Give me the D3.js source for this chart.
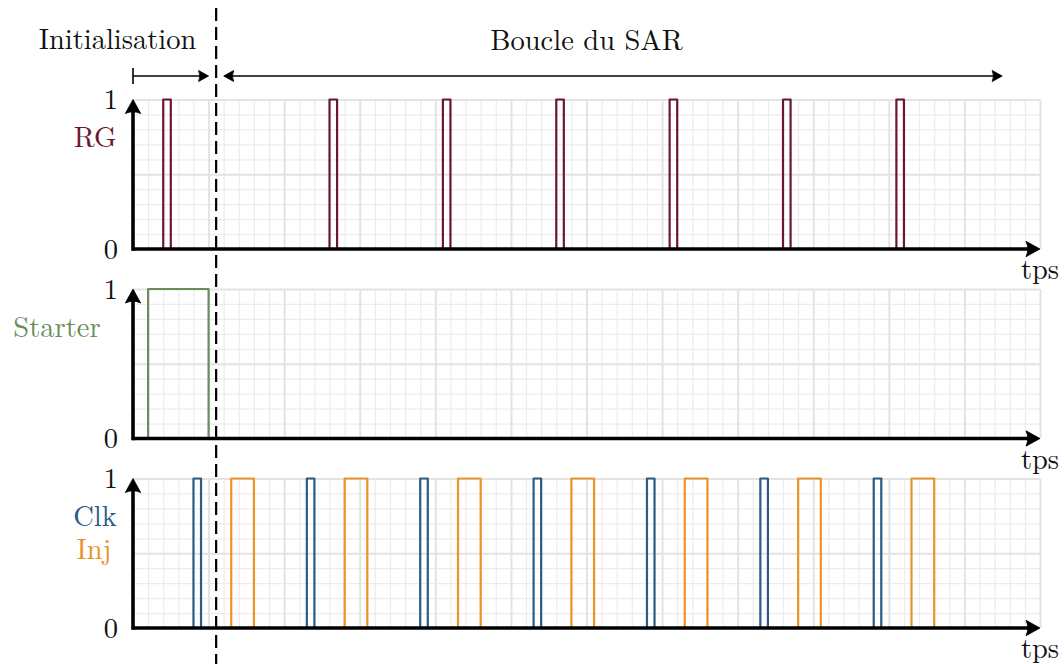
<!DOCTYPE html>
<html><head><meta charset="utf-8">
<script src="https://cdn.jsdelivr.net/npm/d3@7"></script>
<style>
body{margin:0;background:#fff}
svg{display:block}
</style>
</head><body>
<svg id="c" width="1064" height="664"></svg>
<script>
// ---- data ----
const panelSignals = ["RG", "Starter", "Clk", "Inj"];
const rgStart = [0.4, 2.6, 4.1, 5.6, 7.1, 8.6, 10.1];
const rgEnd   = [0.5, 2.7, 4.2, 5.7, 7.2, 8.7, 10.2];
const starterStart = [0.2];
const starterEnd   = [1.0];
const clkStart = [0.8, 2.3, 3.8, 5.3, 6.8, 8.3, 9.8];
const clkEnd   = [0.9, 2.4, 3.9, 5.4, 6.9, 8.4, 9.9];
const injStart = [1.3, 2.8, 4.3, 5.8, 7.3, 8.8, 10.3];
const injEnd   = [1.6, 3.1, 4.6, 6.1, 7.6, 9.1, 10.6];
const yTickValues = [0, 1];
const xAxisLabel = "tps";
const phaseLabels = ["Initialisation", "Boucle du SAR"];
const phaseStart = [0, 1.2];
const phaseEnd = [1.0, 11.5];
const phaseBoundary = 1.1;
const xDomain = [0, 12];

// ---- layout ----
const FONT = "Latin Modern Roman";
const colors = {RG:"#6e1631", Starter:"#6b8d5b", Clk:"#2c5c84", Inj:"#e8942a"};
const svg = d3.select("#c");
const x = d3.scaleLinear().domain(xDomain).range([133, 1040]);
const panelBottoms = [249, 438.5, 628];
const panelH = 149.5;
const fontSize = 28.5;

function txt(g, t, px, py, anchor, color) {
  return g.append("text").attr("x", px).attr("y", py).attr("text-anchor", anchor)
    .attr("font-family", FONT).attr("font-size", fontSize).attr("fill", color || "#111").text(t);
}

function arrowHead(g, tipX, tipY, angle, size, color) {
  const L = size, W = size * 0.55, back = size * 0.75;
  const p = `M0,0 L${-L},${-W} Q${-back},0 ${-L},${W} Z`;
  g.append("path").attr("d", p)
    .attr("transform", `translate(${tipX},${tipY}) rotate(${angle})`)
    .attr("fill", color).attr("stroke", color).attr("stroke-width", 0.8).attr("stroke-linejoin","round");
}

const panels = [
  {signals:[{name:"RG", s:rgStart, e:rgEnd}], labels:[{t:"RG", x:95, y:147}]},
  {signals:[{name:"Starter", s:starterStart, e:starterEnd}], labels:[{t:"Starter", x:57, y:337}]},
  {signals:[{name:"Clk", s:clkStart, e:clkEnd},{name:"Inj", s:injStart, e:injEnd}],
   labels:[{t:"Clk", x:95, y:526},{t:"Inj", x:94, y:559}]}
];

panels.forEach((p, i) => {
  const y = d3.scaleLinear().domain([0, 1]).range([panelBottoms[i], panelBottoms[i] - panelH]);
  const g = svg.append("g");
  const W = x(12) - x(0);
  // minor grid
  const xMinor = d3.range(0, 12.001, 0.2).filter(v => Math.abs(v - Math.round(v)) > 1e-6);
  const yMinor = d3.range(0, 1.001, 0.1).filter(v => Math.abs(v*2 - Math.round(v*2)) > 1e-6);
  g.append("g").attr("transform", `translate(0,${y(0)})`)
    .call(d3.axisBottom(x).tickValues(xMinor).tickSize(-panelH).tickFormat(""))
    .call(a => { a.select(".domain").remove(); a.selectAll("line").attr("stroke","#ececec").attr("stroke-width",1.2); });
  g.append("g").attr("transform", `translate(${x(0)},0)`)
    .call(d3.axisLeft(y).tickValues(yMinor).tickSize(-W).tickFormat(""))
    .call(a => { a.select(".domain").remove(); a.selectAll("line").attr("stroke","#ececec").attr("stroke-width",1.2); });
  // major grid
  g.append("g").attr("transform", `translate(0,${y(0)})`)
    .call(d3.axisBottom(x).tickValues(d3.range(1, 13)).tickSize(-panelH).tickFormat(""))
    .call(a => { a.select(".domain").remove(); a.selectAll("line").attr("stroke","#e3e3e3").attr("stroke-width",2); });
  g.append("g").attr("transform", `translate(${x(0)},0)`)
    .call(d3.axisLeft(y).tickValues([0.5, 1]).tickSize(-W).tickFormat(""))
    .call(a => { a.select(".domain").remove(); a.selectAll("line").attr("stroke","#e3e3e3").attr("stroke-width",2); });

  // signals
  p.signals.forEach(sig => {
    const d = sig.s.map((s, k) => `M${x(s)},${y(0)}V${y(1)}H${x(sig.e[k])}V${y(0)}`).join("");
    g.append("path").attr("d", d).attr("fill","none")
      .attr("stroke", colors[sig.name]).attr("stroke-width", 2.2).attr("stroke-linejoin","round");
  });

  // axes
  g.append("line").attr("x1", x(0)).attr("x2", x(12) - 8).attr("y1", y(0)).attr("y2", y(0))
    .attr("stroke","#000").attr("stroke-width",3.6);
  arrowHead(g, x(12), y(0), 0, 14, "#000");
  g.append("line").attr("x1", x(0)).attr("x2", x(0)).attr("y1", y(0) + 1.8).attr("y2", y(1) + 8)
    .attr("stroke","#000").attr("stroke-width",3.6);
  arrowHead(g, x(0), y(1), -90, 14, "#000");

  // y tick labels
  g.append("g").attr("transform", `translate(${x(0)},0)`)
    .call(d3.axisLeft(y).tickValues(yTickValues).tickSize(0).tickPadding(15).tickFormat(d3.format("d")))
    .call(a => { a.select(".domain").remove();
      a.attr("font-family", FONT).attr("font-size", fontSize);
      a.selectAll("text").attr("font-family", FONT).attr("font-size", fontSize).attr("fill","#111")
       .attr("dy","0.33em"); });

  // x label
  txt(g, xAxisLabel, x(12), y(0) + 30, "middle");

  // signal labels
  p.labels.forEach(l => txt(g, l.t, l.x, l.y, "middle", colors[l.t]));
});

// phase boundary dashed line
svg.append("line").attr("x1", x(phaseBoundary)).attr("x2", x(phaseBoundary))
  .attr("y1", 8).attr("y2", 664).attr("stroke","#000").attr("stroke-width",2.2)
  .attr("stroke-dasharray","13,6");

// phase arrows
const ay = 76;
const ag = svg.append("g");
ag.append("line").attr("x1", x(phaseStart[0])).attr("x2", x(phaseEnd[0]) - 5).attr("y1", ay).attr("y2", ay)
  .attr("stroke","#000").attr("stroke-width",1.6);
ag.append("line").attr("x1", x(phaseStart[0])).attr("x2", x(phaseStart[0])).attr("y1", ay - 8).attr("y2", ay + 8)
  .attr("stroke","#000").attr("stroke-width",1.6);
arrowHead(ag, x(phaseEnd[0]), ay, 0, 10, "#000");
ag.append("line").attr("x1", x(phaseStart[1]) + 5).attr("x2", x(phaseEnd[1]) - 5).attr("y1", ay).attr("y2", ay)
  .attr("stroke","#000").attr("stroke-width",1.6);
arrowHead(ag, x(phaseStart[1]), ay, 180, 10, "#000");
arrowHead(ag, x(phaseEnd[1]), ay, 0, 10, "#000");

// phase labels
txt(svg, phaseLabels[0], 117.5, 49, "middle");
txt(svg, phaseLabels[1], x(6), 50, "middle");
</script>
</body></html>
